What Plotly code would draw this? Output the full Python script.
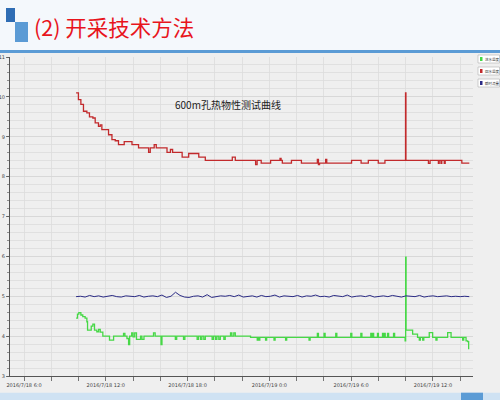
import plotly.graph_objects as go
import pandas as pd

# ---------------- data ----------------
T0 = pd.Timestamp("2016-07-18 00:00")

slide_title = "(2) 开采技术方法"
chart_title = "600m孔热物性测试曲线"
series_names = ["进水温度", "回水温度", "瞬时流量"]

red_hours = [9.82, 9.99, 10.17, 10.36, 10.61, 10.80, 11.05, 11.22, 11.46, 11.59, 11.71, 12.20,
             12.45, 12.69, 12.93, 13.35, 13.92, 14.40, 15.14, 15.26, 15.55, 15.70, 16.49, 16.74,
             16.90, 17.60, 18.08, 18.82, 19.30, 21.28, 21.50, 22.99, 23.10, 23.40, 24.09, 24.78,
             24.86, 24.95, 25.62, 26.35, 27.52, 27.60, 27.68, 28.13, 28.21, 30.03, 30.73, 31.26,
             31.99, 32.48, 33.99, 34.02, 35.67, 35.79, 36.40, 36.46, 36.59, 36.65, 36.83, 36.90,
             38.12, 38.67]
red_vals = [10.10, 9.93, 9.81, 9.64, 9.60, 9.50, 9.47, 9.35, 9.26, 9.30, 9.18, 9.05,
            8.93, 8.90, 8.80, 8.88, 8.80, 8.72, 8.61, 8.72, 8.80, 8.72, 8.61, 8.68,
            8.61, 8.49, 8.58, 8.49, 8.41, 8.49, 8.41, 8.30, 8.41, 8.34, 8.41, 8.46,
            8.41, 8.34, 8.41, 8.34, 8.43, 8.30, 8.34, 8.43, 8.34, 8.41, 8.34, 8.41,
            8.34, 8.41, 10.10, 8.41, 8.33, 8.41, 8.33, 8.41, 8.33, 8.41, 8.33, 8.41,
            8.34, 8.34]

green_hours = [9.82, 9.92, 10.02, 10.17, 10.31, 10.48, 10.61, 10.66, 10.93, 11.05, 11.17, 11.34,
               11.47, 11.59, 11.78, 12.27, 12.57, 13.30, 13.40, 13.55, 13.67, 13.75, 13.90, 14.00,
               14.12, 14.25, 14.55, 14.65, 14.80, 15.50, 15.62, 16.05, 16.12, 17.10, 17.20, 17.70,
               17.80, 18.70, 18.80, 18.95, 19.05, 19.19, 19.30, 19.80, 19.90, 20.05, 20.15, 20.29,
               20.40, 20.66, 20.76, 21.15, 21.25, 21.39, 21.50, 22.62, 23.11, 23.18, 23.23, 23.30,
               23.72, 23.80, 24.34, 24.42, 25.19, 25.27, 26.91, 26.99, 27.52, 27.60, 28.01, 28.09,
               28.87, 28.95, 29.97, 30.05, 30.71, 30.79, 31.44, 31.50, 31.57, 31.65, 31.93, 32.00,
               32.30, 32.36, 32.42, 32.50, 32.67, 32.75, 33.11, 33.19, 33.96, 34.00, 34.03, 34.51,
               34.87, 35.00, 35.08, 35.25, 35.33, 35.73, 35.98, 36.22, 36.30, 37.08, 37.33, 38.18,
               38.26, 38.43, 38.55, 38.62, 38.67]
green_vals = [4.45, 4.55, 4.59, 4.53, 4.49, 4.45, 4.36, 4.15, 4.25, 4.30, 4.15, 4.11,
              4.17, 4.10, 4.00, 3.90, 4.00, 4.07, 4.00, 3.94, 3.79, 4.00, 4.08, 3.98,
              4.08, 3.92, 4.00, 3.92, 4.00, 4.08, 4.00, 3.79, 4.00, 3.92, 4.00, 3.92,
              4.00, 3.92, 4.00, 3.92, 4.00, 3.92, 4.00, 3.92, 4.00, 3.92, 4.00, 3.92,
              4.00, 3.92, 4.00, 4.08, 4.00, 4.08, 4.00, 3.97, 3.90, 3.97, 3.90, 3.97,
              3.90, 3.97, 3.90, 3.97, 3.90, 3.97, 3.90, 3.97, 4.07, 3.97, 4.07, 3.97,
              4.07, 3.97, 4.07, 3.97, 4.07, 3.97, 4.07, 3.97, 4.07, 3.97, 4.07, 3.97,
              4.07, 3.97, 4.07, 3.97, 4.07, 3.97, 4.07, 3.97, 3.88, 5.98, 4.15, 4.05,
              3.97, 3.90, 3.97, 3.90, 3.97, 4.09, 3.97, 3.90, 3.97, 4.09, 3.97, 3.90,
              3.97, 3.88, 3.86, 3.69, 3.69]

blue_start = "2016-07-18 09:49"
blue_end = "2016-07-19 14:40"
blue_vals = [4.99, 5.00, 4.98, 5.02, 4.99, 5.01, 4.98, 5.00, 5.02, 4.99, 4.98, 5.01,
             5.00, 4.99, 5.02, 4.98, 5.00, 5.01, 4.99, 5.03, 4.97, 5.00, 5.10, 5.02,
             4.98, 4.97, 5.00, 5.01, 4.98, 5.04, 4.97, 4.99, 5.01, 5.00, 5.02, 4.99,
             5.03, 4.98, 5.00, 5.01, 4.98, 5.02, 4.99, 5.00, 5.03, 4.98, 5.01, 5.00,
             4.99, 5.02, 4.98, 5.01, 5.00, 5.03, 4.99, 5.00, 4.98, 5.02, 5.01, 4.99,
             5.03, 4.98, 5.00, 5.01, 4.99, 5.02, 4.98, 5.00, 5.01, 4.99, 5.02, 5.00,
             4.98, 5.01, 5.00, 4.99, 5.02, 4.98, 5.00, 5.01, 4.99, 5.00, 5.01, 4.99,
             5.00, 4.99, 5.00, 4.99]

x_tick_hours = [6, 8, 10, 12, 14, 16, 18, 20, 22, 24, 26, 28, 30, 32, 34, 36, 38]
x_tick_text = ["2016/7/18 6:0", "", "", "2016/7/18 12:0", "", "", "2016/7/18 18:0", "", "",
               "2016/7/19 0:0", "", "", "2016/7/19 6:0", "", "", "2016/7/19 12:0", ""]
y_tick_vals = [3, 4, 5, 6, 7, 8, 9, 10, 11]
y_tick_text = ["3", "4", "5", "6", "7", "8", "9", "10", "11"]
x_range_hours = [4.97, 38.94]
y_range = [3, 11]

# ---------------- helpers ----------------
def ts(hours):
    return [T0 + pd.to_timedelta(h, unit="h") for h in hours]

W, H = 500, 400
ML, MR, MT, MB = 10, 27, 57, 24
PW, PH = W - ML - MR, H - MT - MB

def px(x):
    return (x - ML) / PW

def py(y):
    return (H - MB - y) / PH

# ---------------- figure ----------------
fig = go.Figure()
red_c, green_c, blue_c = "#c22a2c", "#46d846", "#2c2c86"

fig.add_trace(go.Scatter(x=ts(green_hours), y=green_vals, mode="lines", name=series_names[0],
                         line=dict(color=green_c, width=1.3, shape="hv")))
fig.add_trace(go.Scatter(x=ts(red_hours), y=red_vals, mode="lines", name=series_names[1],
                         line=dict(color=red_c, width=1.3, shape="hv")))
fig.add_trace(go.Scatter(x=pd.date_range(blue_start, blue_end, periods=len(blue_vals)), y=blue_vals,
                         mode="lines", name=series_names[2],
                         line=dict(color=blue_c, width=1.0)))

shapes = []
def rect(x0, y0, x1, y1, fill, line_color=None, lw=0):
    shapes.append(dict(type="rect", xref="paper", yref="paper",
                       x0=px(x0), x1=px(x1), y0=py(y1), y1=py(y0),
                       fillcolor=fill, line=dict(color=line_color or fill, width=lw),
                       layer="above"))

# header
rect(0, 0, 500, 50, "#f4f8fc")
rect(0, 50, 500, 53, "#5b9bd5")
rect(6, 8, 15, 22, "#2f6db4")
rect(15, 22, 28, 42, "#5b9bd5")
# bottom band
rect(0, 392.7, 500, 400, "#cfe2f3")
rect(461, 392.7, 483, 400, "#5b9bd5")

annotations = [
    dict(x=px(32), y=py(26), xref="paper", yref="paper", text=slide_title, showarrow=False,
         xanchor="left", yanchor="middle",
         font=dict(family="Noto Sans CJK SC", size=21.5, color="#e8141c")),
    dict(x=px(228), y=py(104), xref="paper", yref="paper", text=chart_title, showarrow=False,
         xanchor="center", yanchor="middle",
         font=dict(family="Noto Sans CJK SC", size=10, color="#222222")),
]

# legend (manual, small boxes at right)
leg_colors = [green_c, red_c, blue_c]
leg_y = [55, 67, 79]
for name, col, y0 in zip(series_names, leg_colors, leg_y):
    rect(478, y0, 499.5, y0 + 8, "#ffffff", "#b0b0b0", 0.6)
    rect(480, y0 + 2, 482.5, y0 + 6, col)
    annotations.append(dict(x=px(483.2), y=py(y0 + 4), xref="paper", yref="paper", text=name,
                            showarrow=False, xanchor="left", yanchor="middle",
                            font=dict(family="Noto Sans CJK SC", size=3.5, color="#333333")))

fig.update_layout(
    width=W, height=H, margin=dict(l=ML, r=MR, t=MT, b=MB, pad=0, autoexpand=False),
    paper_bgcolor="#efefef", plot_bgcolor="#efefef",
    showlegend=False, shapes=shapes, annotations=annotations,
    xaxis=dict(type="date", range=ts(x_range_hours), tickmode="array",
               tickvals=ts(x_tick_hours), ticktext=x_tick_text, automargin=False,
               showgrid=True, gridcolor="#dcdcdc", gridwidth=0.8,
               showline=True, linecolor="#555555", linewidth=1,
               ticks="outside", ticklen=4, tickcolor="#555555", tickwidth=0.8,
               tickfont=dict(family="DejaVu Sans", size=5, color="#444444"),
               zeroline=False, fixedrange=True),
    yaxis=dict(range=y_range, tickmode="array", tickvals=y_tick_vals, ticktext=y_tick_text,
               automargin=False,
               showgrid=True, gridcolor="#d6d6d6", gridwidth=0.8,
               minor=dict(dtick=0.2, showgrid=True, gridcolor="#dcdcdc", gridwidth=0.8,
                          ticks="outside", ticklen=2, tickcolor="#777777"),
               showline=True, linecolor="#555555", linewidth=1,
               ticks="outside", ticklen=3, tickcolor="#555555", tickwidth=0.8,
               tickfont=dict(family="DejaVu Sans", size=5, color="#444444"),
               zeroline=False, fixedrange=True),
)

fig.write_html("out.html", config={"displayModeBar": False, "staticPlot": True},
               post_script="document.body.style.margin='0';document.body.style.overflow='hidden';")
